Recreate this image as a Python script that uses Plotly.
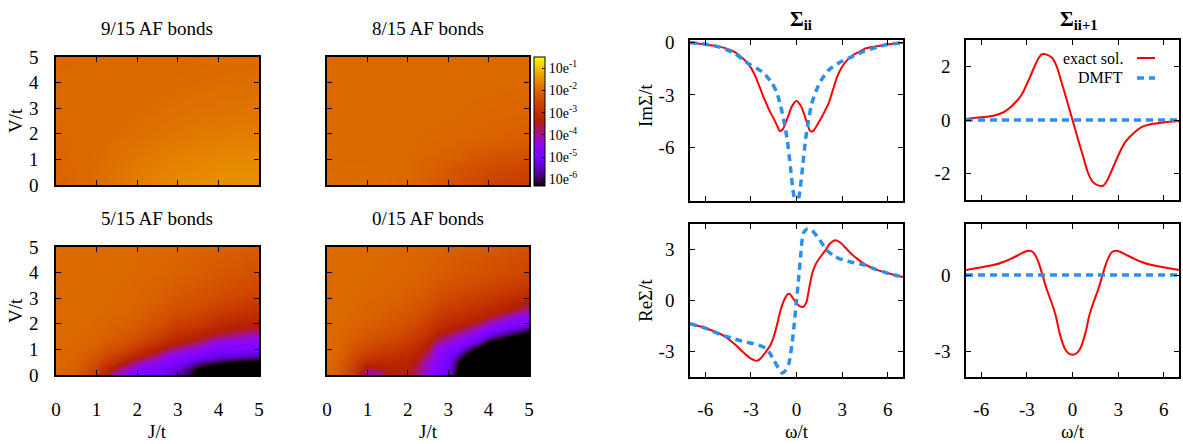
import numpy as np
import plotly.graph_objects as go

W, H = 1183, 444
FONT = "Liberation Serif"

# ---------------- heat-map data: log10 of the weight ----------------
# 9/15 AF bonds: rows are V/t, columns are J/t
NINE_J = [0, 1, 2, 3, 4, 5]
NINE_V = [0, 1, 2, 3, 4, 5]
NINE_Z = [
    [-2.10, -1.95, -1.72, -1.58, -1.52, -1.50],
    [-2.05, -1.95, -1.80, -1.68, -1.60, -1.58],
    [-2.02, -1.98, -1.90, -1.82, -1.76, -1.72],
    [-2.00, -2.00, -1.96, -1.90, -1.86, -1.83],
    [-2.00, -2.00, -2.00, -1.96, -1.93, -1.91],
    [-2.02, -2.00, -2.00, -2.00, -1.98, -1.96],
]

# 8/15 AF bonds
EIGHT_J = [0, 1, 2, 3, 4, 5]
EIGHT_V = [0, 0.5, 1, 1.5, 2, 3, 4, 5]
EIGHT_Z = [
    [-1.95, -1.93, -2.00, -2.30, -2.60, -2.72],
    [-1.97, -1.95, -2.00, -2.25, -2.50, -2.62],
    [-2.00, -1.98, -2.00, -2.12, -2.32, -2.42],
    [-2.00, -2.00, -2.00, -2.05, -2.16, -2.24],
    [-2.00, -2.00, -2.00, -2.02, -2.07, -2.12],
    [-2.00, -2.00, -2.00, -2.00, -2.02, -2.04],
    [-2.00, -2.00, -2.00, -2.00, -2.00, -2.00],
    [-2.00, -2.00, -2.00, -2.00, -2.00, -2.00],
]

# 5/15 AF bonds: one list per J/t column, entries follow FIVE_V
FIVE_J = [0, 0.25, 0.5, 0.75, 1, 1.25, 1.5, 1.75, 2, 2.25, 2.5, 2.75, 3,
          3.25, 3.5, 3.75, 4, 4.25, 4.5, 4.75, 5]
FIVE_V = [0, 0.25, 0.5, 0.75, 1, 1.25, 1.5, 1.75, 2, 2.5, 3, 4, 5]
FIVE_COLS = [
    [-2.05, -2.03, -2.02, -2.0, -2.0, -2.0, -2.0, -2.0, -2.0, -2.0, -2.0, -2.0, -2.0],
    [-2.1, -2.07, -2.05, -2.03, -2.02, -2.0, -2.0, -2.0, -2.0, -2.0, -2.0, -2.0, -2.0],
    [-2.2, -2.15, -2.1, -2.06, -2.04, -2.02, -2.0, -2.0, -2.0, -2.0, -2.0, -2.0, -2.0],
    [-2.45, -2.35, -2.25, -2.15, -2.1, -2.05, -2.03, -2.02, -2.0, -2.0, -2.0, -2.0, -2.0],
    [-2.8, -2.65, -2.45, -2.3, -2.2, -2.12, -2.08, -2.05, -2.03, -2.0, -2.0, -2.0, -2.0],
    [-3.5, -3.2, -2.8, -2.5, -2.32, -2.2, -2.12, -2.08, -2.05, -2.02, -2.0, -2.0, -2.0],
    [-4.3, -3.7, -3.1, -2.7, -2.45, -2.3, -2.2, -2.13, -2.08, -2.04, -2.02, -2.0, -2.0],
    [-4.7, -4.2, -3.4, -2.95, -2.6, -2.4, -2.27, -2.18, -2.12, -2.06, -2.03, -2.0, -2.0],
    [-4.8, -4.65, -3.9, -3.3, -2.85, -2.55, -2.38, -2.27, -2.2, -2.1, -2.05, -2.02, -2.0],
    [-4.9, -4.8, -4.3, -3.55, -3.1, -2.75, -2.52, -2.38, -2.28, -2.15, -2.08, -2.03, -2.0],
    [-5.0, -4.9, -4.6, -3.9, -3.35, -2.98, -2.7, -2.52, -2.38, -2.22, -2.12, -2.05, -2.02],
    [-5.3, -5.1, -4.8, -4.45, -3.7, -3.2, -2.9, -2.68, -2.52, -2.3, -2.18, -2.07, -2.03],
    [-5.6, -5.4, -4.85, -4.7, -4.0, -3.4, -3.1, -2.85, -2.65, -2.4, -2.25, -2.1, -2.05],
    [-6.0, -5.8, -5.2, -4.8, -4.3, -3.6, -3.2, -2.95, -2.72, -2.45, -2.28, -2.12, -2.06],
    [-6.6, -6.4, -5.6, -4.85, -4.5, -3.8, -3.35, -3.05, -2.8, -2.5, -2.32, -2.15, -2.08],
    [-7.0, -6.8, -5.8, -5.1, -4.7, -4.2, -3.6, -3.2, -2.95, -2.6, -2.38, -2.18, -2.1],
    [-7.0, -7.0, -6.0, -5.3, -4.85, -4.6, -3.8, -3.35, -3.1, -2.7, -2.45, -2.22, -2.12],
    [-7.0, -7.0, -6.2, -5.35, -4.85, -4.65, -3.95, -3.45, -3.2, -2.78, -2.5, -2.25, -2.13],
    [-7.0, -7.0, -6.4, -5.4, -4.85, -4.7, -4.1, -3.55, -3.28, -2.85, -2.55, -2.28, -2.15],
    [-7.0, -7.0, -6.5, -5.5, -4.9, -4.7, -4.25, -3.65, -3.32, -2.92, -2.6, -2.32, -2.18],
    [-7.0, -7.0, -6.6, -5.6, -4.9, -4.75, -4.4, -3.7, -3.35, -3.0, -2.65, -2.35, -2.2],
]

# 0/15 AF bonds: one list per J/t column, entries follow ZERO_V
ZERO_J = FIVE_J
ZERO_V = [0, 0.25, 0.5, 0.75, 1, 1.25, 1.5, 1.75, 2, 2.25, 2.5, 3, 3.5, 4, 5]
ZERO_COLS = [
    [-2.05, -2.05, -2.03, -2.02, -2.0, -2.0, -2.0, -2.0, -2.0, -2.0, -2.0, -2.0, -2.0, -2.0, -2.0],
    [-2.2, -2.15, -2.1, -2.07, -2.05, -2.03, -2.02, -2.0, -2.0, -2.0, -2.0, -2.0, -2.0, -2.0, -2.0],
    [-2.5, -2.45, -2.35, -2.25, -2.18, -2.12, -2.08, -2.05, -2.03, -2.02, -2.0, -2.0, -2.0, -2.0, -2.0],
    [-3.0, -2.9, -2.7, -2.5, -2.35, -2.25, -2.18, -2.12, -2.08, -2.05, -2.03, -2.02, -2.0, -2.0, -2.0],
    [-4.3, -3.7, -3.1, -2.75, -2.55, -2.4, -2.28, -2.2, -2.14, -2.1, -2.07, -2.04, -2.02, -2.0, -2.0],
    [-4.1, -3.6, -3.15, -2.85, -2.65, -2.48, -2.35, -2.26, -2.2, -2.15, -2.1, -2.06, -2.03, -2.02, -2.0],
    [-3.5, -3.35, -3.15, -2.92, -2.72, -2.55, -2.42, -2.32, -2.25, -2.19, -2.14, -2.08, -2.05, -2.03, -2.0],
    [-3.45, -3.35, -3.2, -3.02, -2.84, -2.66, -2.5, -2.4, -2.3, -2.23, -2.18, -2.1, -2.06, -2.04, -2.02],
    [-3.45, -3.4, -3.3, -3.15, -2.98, -2.8, -2.62, -2.5, -2.4, -2.32, -2.25, -2.15, -2.09, -2.06, -2.03],
    [-3.9, -3.8, -3.6, -3.4, -3.2, -3.0, -2.8, -2.65, -2.52, -2.42, -2.34, -2.2, -2.12, -2.08, -2.05],
    [-4.5, -4.4, -4.2, -3.9, -3.6, -3.3, -3.05, -2.85, -2.7, -2.56, -2.45, -2.28, -2.18, -2.12, -2.07],
    [-4.85, -4.85, -4.8, -4.7, -4.5, -4.0, -3.55, -3.2, -2.98, -2.8, -2.65, -2.42, -2.26, -2.16, -2.09],
    [-5.2, -5.1, -4.95, -4.85, -4.75, -4.4, -3.85, -3.4, -3.12, -2.92, -2.75, -2.5, -2.32, -2.2, -2.12],
    [-6.4, -6.4, -6.2, -5.6, -4.9, -4.75, -4.25, -3.6, -3.25, -3.02, -2.84, -2.56, -2.36, -2.24, -2.15],
    [-7.0, -7.0, -7.0, -6.7, -5.8, -4.9, -4.6, -3.95, -3.45, -3.15, -2.95, -2.64, -2.42, -2.28, -2.18],
    [-7.0, -7.0, -7.0, -7.0, -6.6, -5.6, -4.85, -4.45, -3.7, -3.3, -3.05, -2.72, -2.48, -2.32, -2.2],
    [-7.0, -7.0, -7.0, -7.0, -7.0, -6.5, -5.5, -4.8, -4.25, -3.5, -3.2, -2.8, -2.54, -2.38, -2.23],
    [-7.0, -7.0, -7.0, -7.0, -7.0, -7.0, -6.0, -4.95, -4.6, -3.8, -3.3, -2.9, -2.6, -2.42, -2.26],
    [-7.0, -7.0, -7.0, -7.0, -7.0, -7.0, -6.4, -5.3, -4.75, -4.25, -3.5, -3.0, -2.66, -2.47, -2.3],
    [-7.0, -7.0, -7.0, -7.0, -7.0, -7.0, -6.6, -5.7, -4.8, -4.6, -3.75, -3.1, -2.72, -2.52, -2.33],
    [-7.0, -7.0, -7.0, -7.0, -7.0, -7.0, -6.8, -6.1, -4.9, -4.7, -4.1, -3.2, -2.8, -2.57, -2.36],
]

CB_MIN, CB_MAX = -6.3, -0.5
CB_TICKS = [-1, -2, -3, -4, -5, -6]
CB_LABELS = ["10e<sup>-1</sup>", "10e<sup>-2</sup>", "10e<sup>-3</sup>",
             "10e<sup>-4</sup>", "10e<sup>-5</sup>", "10e<sup>-6</sup>"]

# ---------------- self-energy curves ----------------
# local Im Sigma_ii
W_IM_EX = [-7, -6, -5, -4.5, -4, -3.5, -3.2, -3.0, -2.7, -2.4, -2.2, -2.0, -1.8, -1.5,
           -1.3, -1.1, -0.9, -0.7, -0.5, -0.3, 0, 0.3, 0.5, 0.7, 0.9, 1.1, 1.3, 1.5,
           1.7, 1.9, 2.1, 2.4, 2.7, 3.0, 3.3, 3.7, 4.0, 4.5, 5, 6, 7]
IM_EX = [-0.04, -0.13, -0.27, -0.4, -0.6, -0.95, -1.22, -1.45, -1.95, -2.6, -3.05, -3.45,
         -3.85, -4.35, -4.7, -5.05, -4.95, -4.55, -4.1, -3.65, -3.35, -3.65, -4.1, -4.6,
         -5.05, -5.05, -4.8, -4.5, -4.2, -3.85, -3.5, -2.7, -1.9, -1.4, -1.05, -0.75,
         -0.6, -0.37, -0.27, -0.13, -0.04]
W_IM_DM = [-7, -6, -5, -4, -3.4, -3.0, -2.5, -2.2, -2.0, -1.6, -1.3, -1.05, -0.8, -0.6,
           -0.4, -0.2, 0, 0.2, 0.4, 0.6, 0.8, 1.0, 1.3, 1.6, 2.1, 2.8, 3.6, 4.5, 5.4, 6, 7]
IM_DM = [-0.03, -0.12, -0.3, -0.68, -1.08, -1.3, -1.55, -1.72, -1.9, -2.34, -2.85, -3.6,
         -4.6, -5.6, -7.1, -8.6, -9.3, -8.6, -7.1, -5.5, -4.4, -3.5, -2.75, -2.2, -1.6,
         -1.17, -0.85, -0.5, -0.26, -0.14, -0.03]

# local Re Sigma_ii
W_RE_EX = [-7, -6, -5, -4.5, -4, -3.5, -3.0, -2.6, -2.3, -2.0, -1.7, -1.5, -1.3, -1.05,
           -0.85, -0.6, -0.45, -0.25, 0, 0.2, 0.45, 0.65, 0.85, 1.05, 1.3, 1.6, 1.9, 2.2,
           2.55, 2.9, 3.2, 3.6, 4.0, 4.5, 5, 6, 7]
RE_EX = [-1.37, -1.62, -1.97, -2.25, -2.62, -3.05, -3.42, -3.55, -3.35, -3.0, -2.6, -2.15,
         -1.5, -0.57, -0.05, 0.35, 0.4, 0.15, -0.15, -0.33, -0.37, -0.1, 0.8, 1.65, 2.2,
         2.6, 2.95, 3.35, 3.55, 3.4, 3.12, 2.75, 2.45, 2.12, 1.9, 1.6, 1.38]
W_RE_DM = [-7, -6, -5, -4.3, -3.8, -2.9, -2.5, -2.0, -1.75, -1.5, -1.2, -0.94, -0.7, -0.5,
           -0.29, -0.15, 0, 0.15, 0.3, 0.45, 0.7, 1.0, 1.5, 2.0, 2.5, 2.8, 3.5, 4.5, 5, 6, 7]
RE_DM = [-1.37, -1.62, -2.0, -2.2, -2.34, -2.53, -2.62, -2.82, -3.1, -3.5, -3.95, -4.26,
         -4.1, -3.7, -2.53, -1.4, 0.0, 1.39, 2.9, 3.95, 4.2, 4.14, 3.6, 2.95, 2.6, 2.47,
         2.28, 2.08, 1.9, 1.6, 1.38]

# nearest-neighbour Im Sigma_ii+1
W_NN_IM = [-7, -6, -5.2, -4.5, -4.1, -3.5, -3.2, -2.8, -2.5, -2.25, -2.0, -1.8, -1.5, -1.3,
           -1.0, -0.75, -0.4, 0, 0.4, 0.75, 1.0, 1.3, 1.5, 1.8, 2.0, 2.25, 2.5, 2.8, 3.2,
           3.5, 4.1, 4.6, 5.2, 6, 7]
NN_IM = [0.04, 0.1, 0.16, 0.3, 0.47, 0.82, 1.1, 1.6, 2.0, 2.3, 2.47, 2.47, 2.4, 2.3, 1.95,
         1.47, 0.8, 0.0, -0.8, -1.47, -1.95, -2.3, -2.4, -2.47, -2.47, -2.3, -2.0, -1.6,
         -1.1, -0.8, -0.45, -0.25, -0.15, -0.09, -0.04]

# nearest-neighbour Re Sigma_ii+1
W_NN_RE = [-7, -6, -5.2, -4.5, -4.0, -3.5, -3.1, -2.85, -2.6, -2.38, -2.15, -1.94, -1.7,
           -1.4, -1.1, -0.85, -0.52, -0.25, 0, 0.25, 0.52, 0.85, 1.1, 1.4, 1.7, 1.94,
           2.15, 2.38, 2.6, 2.85, 3.1, 3.5, 4.0, 4.5, 5.2, 6, 7]
NN_RE = [0.2, 0.3, 0.39, 0.52, 0.65, 0.8, 0.92, 0.95, 0.9, 0.7, 0.35, -0.07, -0.55, -1.04,
         -1.6, -2.28, -2.87, -3.08, -3.13, -3.08, -2.87, -2.28, -1.6, -1.04, -0.55, -0.07,
         0.35, 0.7, 0.9, 0.95, 0.92, 0.8, 0.65, 0.52, 0.39, 0.3, 0.2]

# DMFT has no inter-site self-energy
W_NN_DM = [-7, 7]
NN_DM = [0, 0]

OMEGA_TICKS = [-6, -3, 0, 3, 6]

RED = "#ff0000"
BLUE = "#2a8ff0"


# gnuplot default pm3d palette (rgbformulae 7,5,15)
def pm3d_scale(n=64):
    stops = []
    for i in range(n + 1):
        t = i / n
        r = np.sqrt(t)
        g = t ** 3
        b = max(0.0, np.sin(2 * np.pi * t))
        stops.append([t, f"rgb({int(round(255*r))},{int(round(255*g))},{int(round(255*b))})"])
    return stops


PALETTE = pm3d_scale()


def px(x):
    return x / W


def py(y):
    return 1 - y / H


def xdom(left, right):
    return [px(left), px(right)]


def ydom(top, bottom):
    return [py(bottom), py(top)]


def frame(domain, rng, tickvals, anchor, labels=True, ticktext=None, standoff=8, size=19):
    return dict(domain=domain, range=rng, tickvals=tickvals, ticktext=ticktext,
                showticklabels=labels, ticks="inside", ticklen=5, tickwidth=1,
                tickcolor="black", showline=True, linecolor="black", linewidth=1.5,
                mirror="ticks", showgrid=False, zeroline=False, anchor=anchor,
                ticklabelstandoff=standoff, automargin=False,
                tickfont=dict(family=FONT, size=size, color="black"))


fig = go.Figure()

hm_common = dict(zmin=CB_MIN, zmax=CB_MAX, colorscale=PALETTE, zsmooth="best",
                 hoverinfo="skip")

fig.add_trace(go.Heatmap(x=NINE_J, y=NINE_V, z=NINE_Z, xaxis="x", yaxis="y",
                         showscale=False, **hm_common))
fig.add_trace(go.Heatmap(
    x=EIGHT_J, y=EIGHT_V, z=EIGHT_Z, xaxis="x2", yaxis="y2", showscale=True,
    colorbar=dict(x=px(534), xanchor="left", xpad=0, y=py(57), yanchor="top",
                  ypad=0, len=129 / H, lenmode="fraction", thickness=11,
                  thicknessmode="pixels", outlinewidth=1, outlinecolor="black",
                  tickvals=CB_TICKS, ticktext=CB_LABELS, ticks="inside", ticklen=3,
                  tickcolor="black",
                  tickfont=dict(family=FONT, size=14, color="black")),
    **hm_common))
fig.add_trace(go.Heatmap(x=FIVE_J, y=FIVE_V, z=np.array(FIVE_COLS).T, xaxis="x3",
                         yaxis="y3", showscale=False, **hm_common))
fig.add_trace(go.Heatmap(x=ZERO_J, y=ZERO_V, z=np.array(ZERO_COLS).T, xaxis="x4",
                         yaxis="y4", showscale=False, **hm_common))

curves = [
    (W_IM_EX, IM_EX, W_IM_DM, IM_DM, "x5", "y5"),
    (W_RE_EX, RE_EX, W_RE_DM, RE_DM, "x6", "y6"),
    (W_NN_IM, NN_IM, W_NN_DM, NN_DM, "x7", "y7"),
    (W_NN_RE, NN_RE, W_NN_DM, NN_DM, "x8", "y8"),
]
for wx, ex, wd, dm, xa, ya in curves:
    fig.add_trace(go.Scatter(x=wx, y=ex, mode="lines", xaxis=xa, yaxis=ya,
                             line=dict(color=RED, width=2, shape="spline", smoothing=0.7),
                             showlegend=False, hoverinfo="skip"))
    fig.add_trace(go.Scatter(x=wd, y=dm, mode="lines", xaxis=xa, yaxis=ya,
                             line=dict(color=BLUE, width=3.5, dash="7px,5px",
                                       shape="spline", smoothing=0.7),
                             showlegend=False, hoverinfo="skip"))

J_TICKS = [0, 1, 2, 3, 4, 5]
layout_axes = dict(
    xaxis=frame(xdom(56, 259), [0, 5], J_TICKS, "y", labels=False),
    yaxis=frame(ydom(57, 185), [0, 5], J_TICKS, "x", standoff=12),
    xaxis2=frame(xdom(327, 529), [0, 5], J_TICKS, "y2", labels=False),
    yaxis2=frame(ydom(57, 185), [0, 5], J_TICKS, "x2", labels=False),
    xaxis3=frame(xdom(56, 259), [0, 5], J_TICKS, "y3", standoff=16),
    yaxis3=frame(ydom(247, 375), [0, 5], J_TICKS, "x3", standoff=12),
    xaxis4=frame(xdom(327, 529), [0, 5], J_TICKS, "y4", standoff=16),
    yaxis4=frame(ydom(247, 375), [0, 5], J_TICKS, "x4", labels=False),
    xaxis5=frame(xdom(690, 903), [-7, 7], OMEGA_TICKS, "y5", labels=False),
    yaxis5=frame(ydom(40, 200.5), [-9, 0.12], [0, -3, -6], "x5",
                 ticktext=["0", "-3", "-6"], standoff=10),
    xaxis6=frame(xdom(690, 903), [-7, 7], OMEGA_TICKS, "y6",
                 ticktext=["-6", "-3", "0", "3", "6"], standoff=14),
    yaxis6=frame(ydom(224, 377), [-4.5, 4.5], [-3, 0, 3], "x6",
                 ticktext=["-3", "0", "3"], standoff=10),
    xaxis7=frame(xdom(966, 1179), [-7, 7], OMEGA_TICKS, "y7", labels=False),
    yaxis7=frame(ydom(40, 200), [-3, 3], [-2, 0, 2], "x7",
                 ticktext=["-2", "0", "2"], standoff=10),
    xaxis8=frame(xdom(966, 1179), [-7, 7], OMEGA_TICKS, "y8",
                 ticktext=["-6", "-3", "0", "3", "6"], standoff=14),
    yaxis8=frame(ydom(224, 377), [-4, 2], [-3, 0], "x8",
                 ticktext=["-3", "0"], standoff=10),
)


def text(x, y, s, size=19, angle=0, xanchor="center"):
    return dict(x=px(x), y=py(y), xref="paper", yref="paper", text=s,
                showarrow=False, textangle=angle, xanchor=xanchor, yanchor="middle",
                font=dict(family=FONT, size=size, color="black"))


annotations = [
    text(157, 28, "9/15 AF bonds"),
    text(428, 28, "8/15 AF bonds"),
    text(157, 218, "5/15 AF bonds"),
    text(428, 218, "0/15 AF bonds"),
    text(15, 121, "V/t", angle=-90),
    text(15, 311, "V/t", angle=-90),
    text(157, 431, "J/t"),
    text(428, 431, "J/t"),
    text(645, 106, "ImΣ/t", angle=-90),
    text(645, 301, "ReΣ/t", angle=-90),
    text(797, 431, "ω/t"),
    text(1073, 431, "ω/t"),
    text(801, 20, "<b>Σ<sub>ii</sub></b>", size=21),
    text(1079, 20, "<b>Σ<sub>ii+1</sub></b>", size=21),
    text(1125, 58, "exact sol.", size=16, xanchor="right"),
    text(1125, 78, "DMFT", size=16, xanchor="right"),
]

shapes = [
    dict(type="line", xref="paper", yref="paper", x0=px(1137), x1=px(1155),
         y0=py(58), y1=py(58), line=dict(color=RED, width=2)),
    dict(type="line", xref="paper", yref="paper", x0=px(1137), x1=px(1155),
         y0=py(78), y1=py(78), line=dict(color=BLUE, width=3.5, dash="7px,5px")),
]

fig.update_layout(
    width=W, height=H,
    margin=dict(l=0, r=0, t=0, b=0, pad=0, autoexpand=False),
    paper_bgcolor="white", plot_bgcolor="white",
    font=dict(family=FONT, size=19, color="black"),
    annotations=annotations, shapes=shapes, showlegend=False,
    **layout_axes,
)

fig.write_html("out.html")
